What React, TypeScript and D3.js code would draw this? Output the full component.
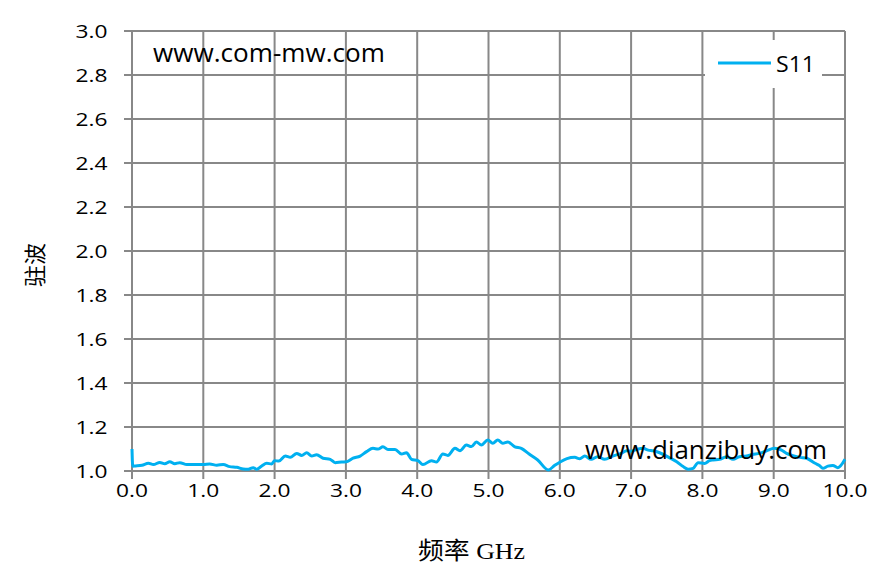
import * as d3 from "d3";
import React from "react";

// frequency (GHz) and VSWR
const freqGHz = [
    0.0, 0.01, 0.05, 0.14, 0.23, 0.30, 0.39, 0.46, 0.53, 0.60, 0.67, 0.77, 0.86,
    1.00, 1.09, 1.19, 1.28, 1.37, 1.47, 1.56, 1.63, 1.70, 1.75, 1.82, 1.89, 1.96,
    2.00, 2.06, 2.15, 2.22, 2.31, 2.38, 2.45, 2.52, 2.59, 2.68, 2.78, 2.85, 2.94,
    3.01, 3.10, 3.20, 3.29, 3.38, 3.45, 3.52, 3.59, 3.69, 3.78, 3.85, 3.92,
    4.01, 4.08, 4.20, 4.27, 4.36, 4.43, 4.53, 4.60, 4.69, 4.76, 4.83, 4.90, 4.99,
    5.06, 5.13, 5.20, 5.27, 5.37, 5.46, 5.57, 5.69, 5.84, 5.93,
    6.00, 6.10, 6.21, 6.28, 6.35, 6.44, 6.53, 6.63, 6.74, 6.86, 6.94,
    7.00, 7.08, 7.17, 7.24, 7.31, 7.40, 7.55, 7.64, 7.73, 7.80, 7.87, 7.94,
    8.03, 8.10, 8.15, 8.24, 8.34, 8.43, 8.52, 8.62, 8.70, 8.80, 8.90,
    9.01, 9.11, 9.18, 9.27, 9.37, 9.46, 9.58, 9.64, 9.69, 9.76, 9.83, 9.90, 10.0,
];
const s11 = [
    1.100, 1.022, 1.023, 1.026, 1.035, 1.029, 1.039, 1.033, 1.042, 1.033, 1.038, 1.029, 1.030,
    1.029, 1.032, 1.026, 1.030, 1.020, 1.017, 1.009, 1.008, 1.015, 1.008, 1.023, 1.035, 1.032,
    1.047, 1.045, 1.068, 1.062, 1.080, 1.071, 1.083, 1.068, 1.074, 1.058, 1.053, 1.038, 1.041,
    1.042, 1.058, 1.068, 1.088, 1.103, 1.100, 1.110, 1.098, 1.098, 1.077, 1.083, 1.053,
    1.047, 1.029, 1.047, 1.041, 1.077, 1.071, 1.103, 1.092, 1.118, 1.111, 1.132, 1.118, 1.141,
    1.126, 1.141, 1.126, 1.132, 1.110, 1.103, 1.077, 1.050, 1.005, 1.026,
    1.040, 1.056, 1.062, 1.056, 1.068, 1.053, 1.065, 1.053, 1.068, 1.080, 1.092,
    1.090, 1.098, 1.103, 1.095, 1.092, 1.083, 1.058, 1.042, 1.020, 1.008, 1.012, 1.038,
    1.034, 1.047, 1.050, 1.053, 1.065, 1.053, 1.065, 1.068, 1.075, 1.080, 1.092,
    1.103, 1.095, 1.080, 1.070, 1.062, 1.058, 1.035, 1.025, 1.012, 1.022, 1.025, 1.015, 1.053,
];

const xTicks = [0, 1, 2, 3, 4, 5, 6, 7, 8, 9, 10];
const yTicks = [1.0, 1.2, 1.4, 1.6, 1.8, 2.0, 2.2, 2.4, 2.6, 2.8, 3.0];

const seriesName = "S11";
const xTitle = "频率 GHz";
const yTitle = "驻波";
const watermarks = ["www.com-mw.com", "www.dianzibuy.com"];

const width = 889;
const height = 579;
const plot = { left: 132, right: 845, top: 31, bottom: 471 };
const gridColour = "#888888";
const lineColour = "#00B0F0";
const stretch = 1.3; // the original picture is stretched sideways
const sans = "'Open Sans', 'Liberation Sans', Arial, sans-serif";

function App() {
    const x = d3.scaleLinear().domain([0, 10]).range([plot.left, plot.right]);
    const y = d3.scaleLinear().domain([1, 3]).range([plot.bottom, plot.top]);

    const points: [number, number][] = freqGHz.map((f, i) => [f, s11[i]]);
    const line = d3.line<[number, number]>()
        .x(d => x(d[0]))
        .y(d => y(d[1]))
        .curve(d3.curveMonotoneX);

    const tickFont = { fontFamily: sans, fontSize: 17.5 };

    return (
        <svg width={width} height={height} style={{ position: "absolute", left: 0, top: 0, background: "#fff" }}>
            <rect width={width} height={height} fill="#fff" />

            {/* grid */}
            {yTicks.map(t => (
                <line key={"gy" + t} x1={plot.left - 8} x2={plot.right} y1={y(t)} y2={y(t)}
                    stroke={gridColour} strokeWidth={2} />
            ))}
            {xTicks.map(t => (
                <line key={"gx" + t} x1={x(t)} x2={x(t)} y1={plot.top} y2={plot.bottom + 8}
                    stroke={gridColour} strokeWidth={2} />
            ))}

            {/* legend box */}
            <rect x={705} y={40} width={117} height={48} fill="#fff" />
            <line x1={718} x2={771} y1={63} y2={63} stroke={lineColour} strokeWidth={3} />
            <text x={776} y={71.5} fontFamily={sans} fontSize={21} fill="#000" textLength={39}
                lengthAdjust="spacingAndGlyphs">
                {seriesName}
            </text>

            {/* tick labels */}
            {yTicks.map(t => (
                <text key={"ly" + t} transform={`translate(107.5,${y(t) + 6.5}) scale(${stretch},1)`}
                    textAnchor="end" {...tickFont} fill="#000">
                    {d3.format(".1f")(t)}
                </text>
            ))}
            {xTicks.map(t => (
                <text key={"lx" + t} transform={`translate(${x(t)},${plot.bottom + 26}) scale(${stretch},1)`}
                    textAnchor="middle" {...tickFont} fill="#000">
                    {d3.format(".1f")(t)}
                </text>
            ))}

            {/* series */}
            <path d={line(points) || ""} fill="none" stroke={lineColour} strokeWidth={3}
                strokeLinejoin="round" />

            {/* axis titles */}
            <text x={418} y={559} textLength={107} lengthAdjust="spacingAndGlyphs"
                fontFamily="'Liberation Serif', 'Noto Sans CJK SC', serif" fontSize={24} fill="#000">
                {xTitle}
            </text>
            <text transform="translate(43,265) rotate(-90)" textAnchor="middle"
                fontFamily="'Noto Sans CJK SC', serif" fontSize={22} fill="#000">
                {yTitle}
            </text>

            {/* watermarks */}
            <text x={153} y={62} textLength={232} lengthAdjust="spacingAndGlyphs"
                fontFamily={sans} fontSize={26} fill="#000">
                {watermarks[0]}
            </text>
            <text x={585} y={459} textLength={242} lengthAdjust="spacingAndGlyphs"
                fontFamily={sans} fontSize={26} fill="#000">
                {watermarks[1]}
            </text>
        </svg>
    );
}

export default App;
